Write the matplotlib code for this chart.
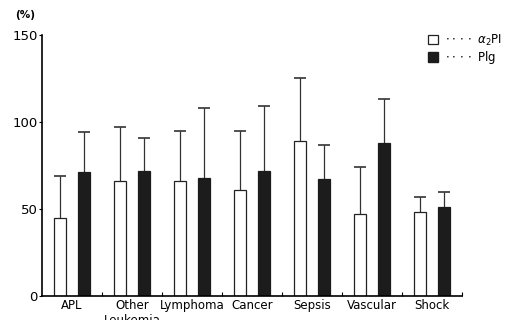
import numpy as np
import matplotlib
matplotlib.use("Agg")
import matplotlib.pyplot as plt
from matplotlib.patches import Patch

categories = ["APL", "Other\nLeukemia", "Lymphoma", "Cancer", "Sepsis", "Vascular", "Shock"]
a2pi_mean = [45, 66, 66, 61, 89, 47, 48]
a2pi_sd = [24, 31, 29, 34, 36, 27, 9]
plg_mean = [71, 72, 68, 72, 67, 88, 51]
plg_sd = [23, 19, 40, 37, 20, 25, 9]

fig = plt.figure(figsize=(5.06, 3.20), dpi=100)
ax = fig.add_axes([42 / 506, 24 / 320, 420 / 506, 261 / 320])

x = np.arange(len(categories)) + 0.5
w = 0.21


def bars(xpos, mean, sd, face):
    mean = np.asarray(mean)
    top = mean + np.asarray(sd)
    ax.bar(xpos, mean, w, color=face, edgecolor="#222222" if face == "white" else face,
           linewidth=0.9, zorder=2)
    # upper-only error bars: stem from bar top plus a single cap
    ax.vlines(xpos, mean, top, color="#333333", linewidth=0.9, zorder=1)
    ax.plot(xpos, top, linestyle="none", marker="_", markersize=9,
            markeredgewidth=1.1, color="#222222", zorder=1)


bars(x - 0.2, a2pi_mean, a2pi_sd, "white")
bars(x + 0.2, plg_mean, plg_sd, "#1c1c1c")

ax.set_xlim(0, 7)
ax.set_ylim(0, 150)
ax.set_yticks([0, 50, 100, 150])
ax.set_xticks(range(1, 8))
ax.set_xticklabels([])
ax.set_xticks(x, minor=True)
ax.set_xticklabels(categories, minor=True, fontsize=8.5)
ax.tick_params(axis="x", which="minor", length=0, pad=2)
ax.tick_params(axis="x", which="major", direction="in", length=3)
ax.tick_params(axis="y", direction="out", length=2, labelsize=9.5, pad=1)
for s in ["top", "right"]:
    ax.spines[s].set_visible(False)
ax.spines["left"].set_linewidth(1.2)
ax.spines["bottom"].set_linewidth(1.2)

fig.text(15 / 506, 1 - 15 / 320, "(%)", fontsize=7.5, fontweight="bold", va="center")

handles = [Patch(facecolor="white", edgecolor="#222222", linewidth=0.9),
           Patch(facecolor="#1c1c1c", edgecolor="#1c1c1c")]
ax.legend(handles, [r"$\cdot\cdot\cdot\cdot$ $\mathit{\alpha}_2$PI", r"$\cdot\cdot\cdot\cdot$ Plg"],
          loc="upper right", bbox_to_anchor=(1.12, 1.05), frameon=False, fontsize=8.5,
          handlelength=0.8, handleheight=0.9, handletextpad=0.6, labelspacing=0.1)

fig.savefig("out.png", dpi=100)
